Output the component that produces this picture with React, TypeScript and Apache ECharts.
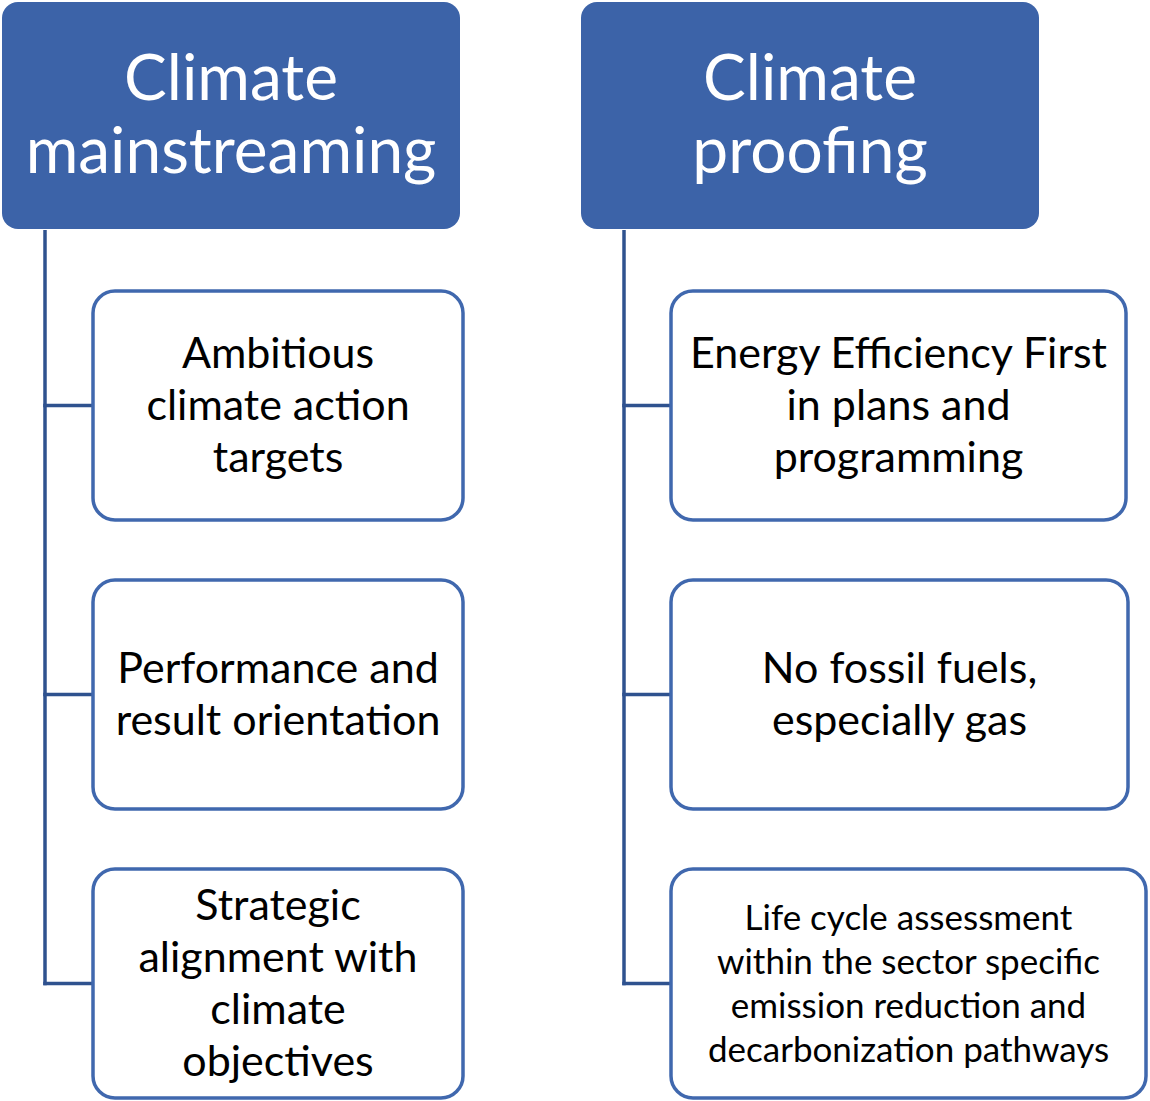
import React, { useEffect, useRef } from "react";
import * as echarts from "echarts";

const headers = ["Climate\nmainstreaming", "Climate\nproofing"];
const leftItems = [
  "Ambitious\nclimate action\ntargets",
  "Performance and\nresult orientation",
  "Strategic\nalignment with\nclimate\nobjectives",
];
const rightItems = [
  "Energy Efficiency First\nin plans and\nprogramming",
  "No fossil fuels,\nespecially gas",
  "Life cycle assessment\nwithin the sector specific\nemission reduction and\ndecarbonization pathways",
];

const HEADER_FILL = "#3C63A8";
const BORDER = "#4068AE";
const CONNECTOR = "#2F528F";
const FONT = "Lato, 'Open Sans', sans-serif";

export default function App() {
  const ref = useRef<HTMLDivElement>(null);
  useEffect(() => {
    if (!ref.current) return;
    const chart = echarts.init(ref.current, null, { renderer: "svg" });
    const elements: any[] = [];

    const headerBoxes = [
      { x: 2, y: 2, w: 458, h: 227 },
      { x: 581, y: 2, w: 458, h: 227 },
    ];
    headers.forEach((t, i) => {
      const b = headerBoxes[i];
      elements.push({
        type: "rect",
        shape: { x: b.x, y: b.y, width: b.w, height: b.h, r: 16 },
        style: { fill: HEADER_FILL },
      });
      elements.push({
        type: "text",
        x: b.x + b.w / 2,
        y: b.y + b.h / 2 - 4,
        style: {
          text: t,
          fill: "#ffffff",
          font: `400 64px ${FONT}`,
          lineHeight: 73,
          textAlign: "center",
          align: "center",
          textVerticalAlign: "middle",
          verticalAlign: "middle",
        },
      });
    });

    const rowsY = [291, 580, 869];
    const boxH = 229;
    const cols = [
      { lineX: 45, boxX: 93, widths: [370, 370, 370], items: leftItems, sizes: [43, 43, 43], lh: [52, 52, 52] },
      { lineX: 624, boxX: 671, widths: [455, 457, 475], items: rightItems, sizes: [43, 43, 35], lh: [52, 52, 44] },
    ];

    cols.forEach((c) => {
      const lastMid = rowsY[2] + boxH / 2;
      elements.push({
        type: "line",
        shape: { x1: c.lineX, y1: 230, x2: c.lineX, y2: lastMid + 1.75 },
        style: { stroke: CONNECTOR, lineWidth: 3.5 },
      });
      c.items.forEach((t, i) => {
        const y = rowsY[i];
        const mid = y + boxH / 2;
        elements.push({
          type: "line",
          shape: { x1: c.lineX - 1.75, y1: mid, x2: c.boxX, y2: mid },
          style: { stroke: CONNECTOR, lineWidth: 3.5 },
        });
        elements.push({
          type: "rect",
          shape: { x: c.boxX, y, width: c.widths[i], height: boxH, r: 22 },
          style: { fill: "#ffffff", stroke: BORDER, lineWidth: 3.5 },
        });
        elements.push({
          type: "text",
          x: c.boxX + c.widths[i] / 2,
          y: mid - 2,
          style: {
            text: t,
            fill: "#000000",
            font: `400 ${c.sizes[i]}px ${FONT}`,
            lineHeight: c.lh[i],
            textAlign: "center",
            align: "center",
            textVerticalAlign: "middle",
            verticalAlign: "middle",
          },
        });
      });
    });

    chart.setOption({
      animation: false,
      backgroundColor: "#ffffff",
      graphic: { elements },
    });
    return () => chart.dispose();
  }, []);
  return (
    <div
      ref={ref}
      style={{ position: "absolute", left: 0, top: 0, width: 1150, height: 1101 }}
    />
  );
}
